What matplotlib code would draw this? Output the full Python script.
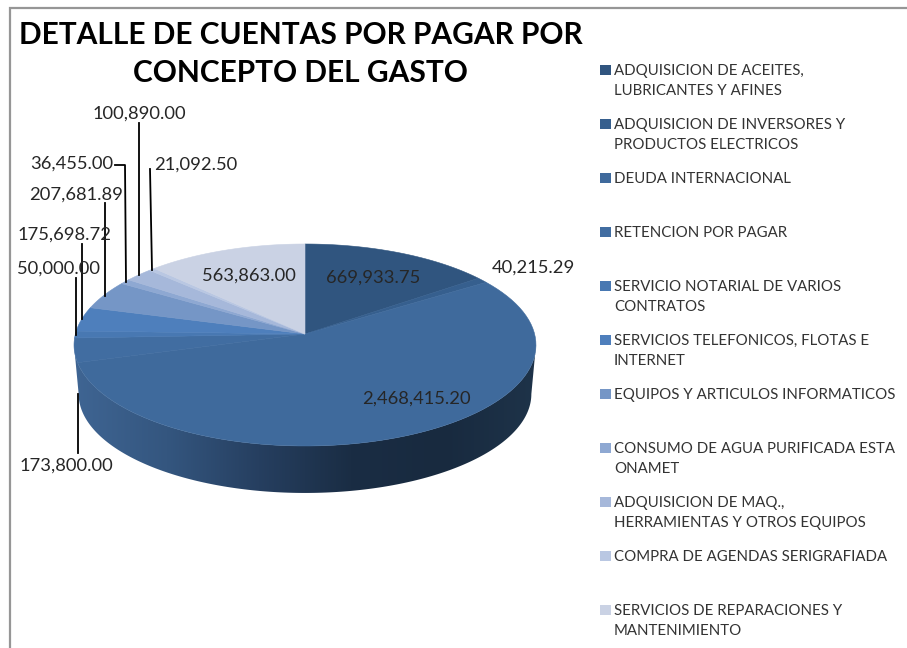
import numpy as np
import matplotlib
matplotlib.use("Agg")
import matplotlib.pyplot as plt
from matplotlib.colors import LinearSegmentedColormap
from matplotlib.patches import Polygon, Rectangle

plt.rcParams['font.family'] = ['Lato', 'DejaVu Sans']

title = "DETALLE DE CUENTAS POR PAGAR POR\nCONCEPTO DEL GASTO"

categories = [
    "ADQUISICION DE ACEITES,\nLUBRICANTES Y AFINES",
    "ADQUISICION DE INVERSORES Y\nPRODUCTOS ELECTRICOS",
    "DEUDA INTERNACIONAL",
    "RETENCION POR PAGAR",
    "SERVICIO NOTARIAL DE VARIOS\nCONTRATOS",
    "SERVICIOS TELEFONICOS, FLOTAS E\nINTERNET",
    "EQUIPOS Y ARTICULOS INFORMATICOS",
    "CONSUMO DE AGUA PURIFICADA ESTA\nONAMET",
    "ADQUISICION DE MAQ.,\nHERRAMIENTAS Y OTROS EQUIPOS",
    "COMPRA DE AGENDAS SERIGRAFIADA",
    "SERVICIOS DE REPARACIONES Y\nMANTENIMIENTO",
]
values = [669933.75, 40215.29, 2468415.20, 173800.00, 50000.00, 175698.72,
          207681.89, 36455.00, 100890.00, 21092.50, 563863.00]
colors = ['#30557f', '#365f8e', '#3f6a9c', '#416da1', '#4878b2', '#4e7fbc',
          '#7596c6', '#8ea8d2', '#a6b8da', '#b9c7e2', '#cad2e4']

# where each value label sits, and its leader line if it has one
label_pos = [(373, 278), (533, 268), (416, 399), (66, 466), (59, 269), (65, 235),
             (76, 195), (72, 164), (139, 114), (196, 165), (249, 276)]
leaders = {
    3: [(78, 394), (78, 453)],
    4: [(76, 278), (76, 335)],
    5: [(82, 244), (82, 319)],
    6: [(104.5, 203), (104.5, 296)],
    7: [(115, 165), (125, 165), (126, 282)],
    8: [(139, 123), (139, 275)],
    9: [(150, 169), (152, 270)],
}

# pie projection, in pixels of the picture
cx, cy = 305, 334
R, H, k = 229.6, 99.8, 0.1089
depth, shrink = 49.2, 0.98


def rim(theta, scale=1.0, dy=0.0):
    w = 1 + k * np.cos(theta)
    return np.column_stack((cx + scale * R * np.sin(theta) / w,
                            cy + dy - scale * H * np.cos(theta) / w))


fig = plt.figure(figsize=(9.07, 6.48), dpi=100)
ax = fig.add_axes([0, 0, 1, 1])
ax.set_xlim(0, 907)
ax.set_ylim(648, 0)
ax.axis('off')

# chart frame
ax.plot([10, 10, 907], [648, 8, 8], color='#969696', lw=1.6, solid_joinstyle='miter')

# side of the pie with a left to right gradient, between the two silhouette tangents
side_cmap = LinearSegmentedColormap.from_list(
    'side', ['#3f6593', '#34567f', '#263f60', '#1a2d44', '#182a3f', '#1e3349'])
tangent = np.arccos(-k)
th = np.linspace(tangent, 2 * np.pi - tangent, 200)
outline = np.vstack((rim(th), rim(th[::-1], shrink, depth)))
grad = ax.imshow(np.linspace(0, 1, 256).reshape(1, -1), cmap=side_cmap, aspect='auto',
                 extent=(74, 536, 500, 330), zorder=1)
side = Polygon(outline, closed=True, transform=ax.transData, facecolor='none', edgecolor='none')
ax.add_patch(side)
grad.set_clip_path(side)
ax.set_xlim(0, 907)
ax.set_ylim(648, 0)

# top of the pie, clockwise from 12 o'clock
edges = np.concatenate(([0], np.cumsum(values))) / np.sum(values) * 2 * np.pi
for i, col in enumerate(colors):
    arc = rim(np.linspace(edges[i], edges[i + 1], 80))
    ax.add_patch(Polygon(np.vstack(([(cx, cy)], arc)), closed=True, facecolor=col,
                         edgecolor=col, lw=0.4, zorder=2))

for i, val in enumerate(values):
    ax.text(label_pos[i][0], label_pos[i][1], f"{val:,.2f}", ha='center', va='center',
            fontsize=13.2, color='#262626', zorder=5)
for pts in leaders.values():
    ax.plot([p[0] for p in pts], [p[1] for p in pts], color='black', lw=1.3, zorder=4)

ax.text(300.5, 54, title, ha='center', va='center', fontsize=21.5, fontweight='bold',
        color='black', linespacing=1.47)

# legend
for i, (name, col) in enumerate(zip(categories, colors)):
    y = 70 + i * 54
    ax.add_patch(Rectangle((600, y - 5), 11, 10, facecolor=col, edgecolor='none'))
    ax.text(614, y - 6, name, ha='left', va='top', fontsize=10.85, color='#333333',
            linespacing=1.52)

fig.savefig('out.png', dpi=100)
